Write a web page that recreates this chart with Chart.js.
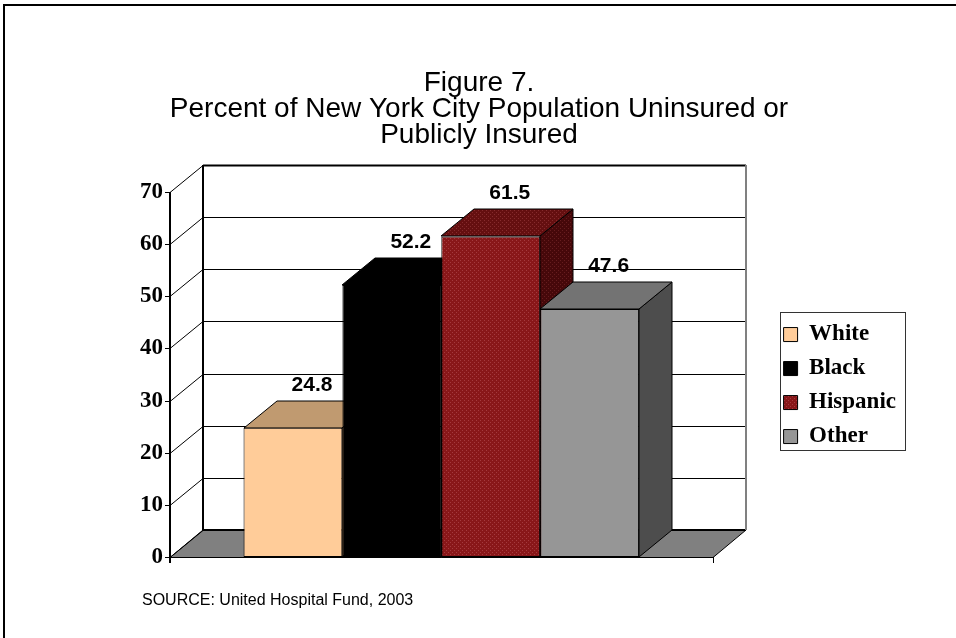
<!DOCTYPE html>
<html>
<head>
<meta charset="utf-8">
<script src="https://cdn.jsdelivr.net/npm/chart.js@4.4.1/dist/chart.umd.min.js"></script>
<style>
  html, body { margin: 0; padding: 0; background: #fff; overflow: hidden; }
  #page { position: relative; width: 956px; height: 638px; }
  #frame { position: absolute; left: 3px; top: 4px; width: 1000px; height: 700px; border: 2px solid #000; }
  #chartArea { position: absolute; left: 0; top: 0; }
  #source { position: absolute; left: 142px; top: 591px; font: 16px "Liberation Sans", Arial, sans-serif; color: #000; white-space: nowrap; }
</style>
</head>
<body>
<div id="page">
  <div id="frame"></div>
  <canvas id="chartArea" width="956" height="638"></canvas>
  <div id="source">SOURCE: United Hospital Fund, 2003</div>
</div>
<script>
// Chart data
var titleLines = ['Figure 7.', 'Percent of New York City Population Uninsured or', 'Publicly Insured'];
var categories = ['White', 'Black', 'Hispanic', 'Other'];
var values = [24.8, 52.2, 61.5, 47.6];
var yMin = 0, yMax = 70, yStep = 10;

// 3D depth of the bars and walls, in pixels
var DX = 33, DY = 27;

// Dotted fill like the original Hispanic bar
function makeDots(base, dot) {
  var c = document.createElement('canvas');
  c.width = 4; c.height = 4;
  var g = c.getContext('2d');
  g.fillStyle = base;
  g.fillRect(0, 0, 4, 4);
  g.fillStyle = dot;
  g.fillRect(0, 0, 1, 1);
  g.fillRect(2, 2, 1, 1);
  return g.createPattern(c, 'repeat');
}

var frontColors = ['#FFCC99', '#000000', makeDots('#891719', '#a53a3e'), '#969696'];
var topColors = ['#C09A70', '#000000', makeDots('#650f10', '#862b2d'), '#737373'];
var sideColors = ['#9a7a58', '#000000', makeDots('#46080a', '#661d1f'), '#4d4d4d'];

function line(ctx, x1, y1, x2, y2) {
  ctx.beginPath();
  ctx.moveTo(x1, y1);
  ctx.lineTo(x2, y2);
  ctx.stroke();
}

function face(ctx, pts, fill) {
  ctx.beginPath();
  ctx.moveTo(pts[0][0], pts[0][1]);
  for (var i = 1; i < pts.length; i++) ctx.lineTo(pts[i][0], pts[i][1]);
  ctx.closePath();
  ctx.fillStyle = fill;
  ctx.fill();
  ctx.stroke();
}

// Walls, floor and the tops/sides of the bars
var box3d = {
  id: 'box3d',
  beforeDatasetsDraw: function(chart) {
    var ctx = chart.ctx, a = chart.chartArea, y = chart.scales.y;
    var L = Math.round(a.left), R = Math.round(a.right), B = Math.round(a.bottom);
    ctx.save();
    ctx.strokeStyle = '#000';
    ctx.lineWidth = 1;

    // floor
    face(ctx, [[L, B + 0.5], [R, B + 0.5], [R + DX, B - DY], [L + DX, B - DY]], '#808080');

    // grid on back wall, diagonals on the side wall, small ticks
    y.ticks.forEach(function(t) {
      var py = Math.round(y.getPixelForValue(t.value)) + 0.5;
      ctx.strokeStyle = '#000';
      ctx.lineWidth = 1;
      line(ctx, L, py, L + DX, py - DY);
      line(ctx, L - 5, py, L, py);
      if (t.value > yMin) {
        ctx.lineWidth = t.value === yMax ? 2 : 1;
        line(ctx, L + DX, py - DY, R + DX, py - DY);
      }
    });

    // back wall edges
    var topBack = Math.round(y.getPixelForValue(yMax)) - DY;
    ctx.lineWidth = 2;
    ctx.strokeStyle = '#000';
    line(ctx, L + DX, topBack, L + DX, B - DY);
    line(ctx, L + DX, B - DY, R + DX, B - DY);
    ctx.strokeStyle = '#808080';
    line(ctx, R + DX, topBack, R + DX, B - DY);

    // front axis and floor edge
    ctx.strokeStyle = '#000';
    line(ctx, L, Math.round(y.getPixelForValue(yMax)), L, B + 6);
    ctx.lineWidth = 1;
    line(ctx, L, B + 0.5, R, B + 0.5);
    line(ctx, R + 0.5, B, R + 0.5, B + 6);

    // sides and tops of the bars, left to right
    chart.data.datasets.forEach(function(ds, i) {
      var el = chart.getDatasetMeta(i).data[0];
      var l = Math.round(el.x - el.width / 2), r = Math.round(el.x + el.width / 2);
      var t = Math.round(el.y), b = Math.round(el.base);
      ctx.strokeStyle = '#000';
      ctx.lineWidth = 1;
      face(ctx, [[r, t], [r + DX, t - DY], [r + DX, b - DY], [r, b]], sideColors[i]);
      face(ctx, [[l, t], [l + DX, t - DY], [r + DX, t - DY], [r, t]], topColors[i]);
    });
    ctx.restore();
  },
  afterDatasetsDraw: function(chart) {
    var ctx = chart.ctx;
    ctx.save();
    ctx.fillStyle = '#000';
    ctx.font = 'bold 21px "Liberation Sans", Arial, sans-serif';
    ctx.textAlign = 'center';
    ctx.textBaseline = 'alphabetic';
    chart.data.datasets.forEach(function(ds, i) {
      var el = chart.getDatasetMeta(i).data[0];
      ctx.fillText(ds.data[0].toFixed(1), el.x + 19, el.y - DY - 10);
    });
    ctx.restore();
  },
  afterDraw: function(chart) {
    // frame round the legend
    var boxes = chart.legend && chart.legend.legendHitBoxes;
    if (!boxes || !boxes.length) return;
    var ctx = chart.ctx;
    var left = Infinity, right = -Infinity;
    boxes.forEach(function(h) {
      left = Math.min(left, h.left);
      right = Math.max(right, h.left + h.width);
    });
    var top = boxes[0].top, bottom = boxes[boxes.length - 1].top + boxes[boxes.length - 1].height;
    ctx.save();
    ctx.strokeStyle = '#333';
    ctx.lineWidth = 1;
    ctx.strokeRect(Math.round(left - 4) + 0.5, Math.round(top - 11) + 0.5,
      Math.round(right - left + 13), Math.round(bottom - top + 13));
    ctx.restore();
  }
};

var datasets = categories.map(function(name, i) {
  return {
    label: name,
    data: [values[i]],
    backgroundColor: frontColors[i],
    borderColor: '#000',
    borderWidth: 1,
    borderSkipped: false,
    categoryPercentage: 0.729,
    barPercentage: 1.0
  };
});

var ctx = document.getElementById('chartArea').getContext('2d');
window.myBarChart = new Chart(ctx, {
  type: 'bar',
  data: { labels: [''], datasets: datasets },
  plugins: [box3d],
  options: {
    responsive: false,
    animation: false,
    events: [],
    layout: { padding: { left: 52, right: 50, top: 0, bottom: 81 } },
    plugins: {
      title: {
        display: true,
        text: titleLines,
        color: '#000',
        font: { family: '"Liberation Sans", Arial, sans-serif', size: 28, weight: 'normal', lineHeight: 0.93 },
        padding: { top: 70, bottom: 44 }
      },
      legend: {
        position: 'right',
        fullSize: false,
        title: { display: true, text: '', font: { size: 10, lineHeight: 1 }, padding: { top: 6, bottom: 6 } },
        labels: {
          boxWidth: 14,
          boxHeight: 14,
          padding: 11,
          color: '#000',
          font: { family: '"Liberation Serif", "Times New Roman", serif', size: 23, weight: 'bold' }
        }
      },
      tooltip: { enabled: false }
    },
    scales: {
      x: { display: false },
      y: {
        min: yMin,
        max: yMax,
        ticks: {
          stepSize: yStep,
          padding: 7,
          color: '#000',
          font: { family: '"Liberation Serif", "Times New Roman", serif', size: 23, weight: 'bold' }
        },
        grid: { display: false, drawTicks: false },
        border: { display: false },
        afterFit: function(s) { s.width = 118; }
      },
      gap: {
        type: 'linear',
        position: 'right',
        display: true,
        grid: { display: false },
        ticks: { display: false },
        border: { display: false },
        afterFit: function(s) { s.width = 60; }
      }
    }
  }
});
</script>
</body>
</html>
